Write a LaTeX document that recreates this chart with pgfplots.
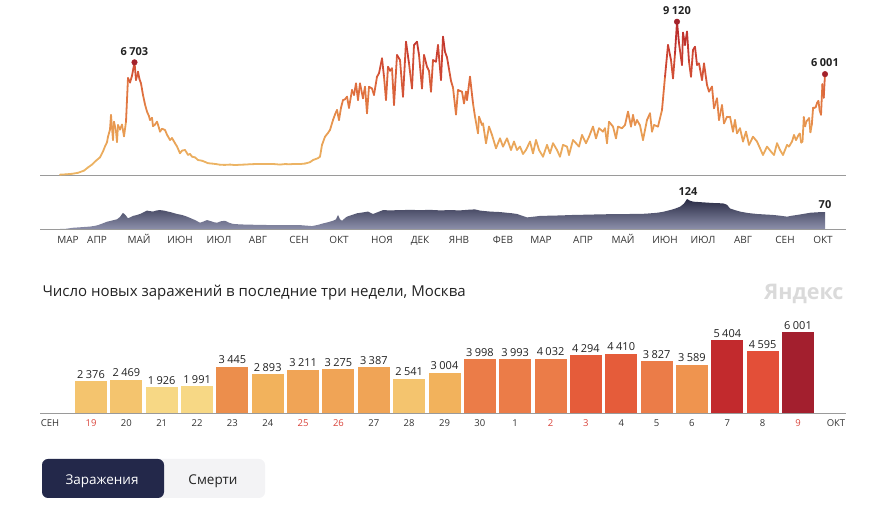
\documentclass[border=0pt]{standalone}
\usepackage{pgfplots}
\usepackage{pgfplotstable}
\pgfplotsset{compat=1.18}
\usepackage{fontspec}
\setmainfont{Open Sans}
\definecolor{axisgray}{HTML}{9A9A9A}
\definecolor{txt}{HTML}{333333}
\definecolor{lbl}{HTML}{222222}
\definecolor{wkend}{HTML}{D9453C}
\definecolor{peak}{HTML}{A3222B}
\definecolor{dtop}{RGB}{40,42,68}
\definecolor{dbot}{RGB}{140,143,170}
\definecolor{btndark}{HTML}{23284A}
\definecolor{btnlight}{HTML}{F3F3F5}
\definecolor{yalogo}{HTML}{DADADA}
\definecolor{cA}{HTML}{F4C46E}
\definecolor{cB}{HTML}{F7D885}
\definecolor{cC}{HTML}{EC8E4C}
\definecolor{cD}{HTML}{F2B25C}
\definecolor{cE}{HTML}{F0A456}
\definecolor{cF}{HTML}{EB7C48}
\definecolor{cG}{HTML}{E55C3A}
\definecolor{cH}{HTML}{EF944F}
\definecolor{cI}{HTML}{C22A2D}
\definecolor{cJ}{HTML}{E34F38}
\definecolor{cK}{HTML}{A31F2E}
\pgfplotsset{colormap={cases}{rgb255=(236,180,100) rgb255=(232,155,82) rgb255=(224,112,62) rgb255=(204,66,50) rgb255=(178,36,42)}}
\newcommand{\nsp}{\hspace{0.22em}}

\pgfplotstableread{
px v
60 20
66 40
72 70
78 130
84 260
88 450
92 620
96 850
100 1050
103 1400
105 1700
107 1950
108 2280
110 2700
111 3570
113 2080
114 3170
116 2600
117 1960
118 2975
120 2700
122 3000
124 2300
126 3170
128 5770
130 5500
132 5900
134.5 6703
136 5650
138 6150
139.5 5700
141 5450
143 4760
145 4200
147 3770
149 3500
150 3270
152 3400
153 2900
155 3000
157 3170
159 2800
160 2580
162 2750
165 2680
167 2400
170 2080
172 2200
175 1890
177 1700
180 1290
182 1450
185 1490
188 1200
190 1250
192 1090
195 1050
198 890
202 850
205 780
208 700
212 680
216 650
220 610
225 600
230 620
235 590
240 610
245 620
250 640
255 650
260 660
265 650
272 660
280 620
285 650
290 640
295 660
300 650
305 680
310 760
313 890
318 1000
320 1090
322 1785
325 2280
328 2500
330 2680
333 3270
335 3600
337 3870
339 3270
341 4000
343 4460
345 4500
347 4660
349 3990
352 5060
354 4760
356 5450
358 4460
360 5450
363 4560
365 5250
367 3670
369 5250
372 5150
374 4760
377 5850
379 6050
382 6940
384 5850
386 4460
388 6440
390 6200
392 6350
394 4170
397 7140
400 6840
403 4660
406 7930
409 6640
412 5150
414 7730
417 7930
419 7140
422 5150
424 7140
427 6440
429 6200
431 4960
433 6840
436 6740
438 7730
441 5650
443 8230
445 7330
447 7000
449 6300
451 5600
453 5200
456 3600
458 5060
460 5000
462 4960
464 4260
466 4960
467 4460
470 5850
473 4260
475 3470
478 2480
479 3470
482 2975
483 3070
486 1890
489 2880
492 2380
496 1590
500 2180
503 1690
507 2180
511 1490
514 1990
517 1490
520 1690
523 1250
526 1490
530 1990
533 1290
536 2080
539 1490
543 1090
547 1790
550 1290
553 1890
557 1490
560 1090
563 1790
567 1690
569 1190
573 2080
576 1890
579 1690
582 2380
586 1890
589 2280
593 2880
596 2180
599 2780
603 2580
605 2780
607 1890
609 3170
613 2880
616 2180
618 2880
622 2780
625 2975
628 3770
631 2880
633 3570
635 2975
637 3270
640 2950
643 2080
647 3270
650 3670
652 2580
654 2975
658 2880
662 3870
665 5850
668 7735
671 6840
673 5750
675 7240
677 9120
679 7830
682 6545
683 8470
685 7735
687 8530
689 6740
691 5850
693 7440
695 7630
697 6545
699 6640
702 5650
704 6640
707 5355
709 4960
712 5260
714 3970
717 4560
719 3270
722 4160
724 3070
727 3470
730 3470
733 2580
735 3270
737 2480
740 2780
743 1990
746 2580
749 1790
753 2280
757 1990
760 1590
763 1190
767 1690
771 1390
774 1190
777 1890
780 1490
783 1190
787 1790
789 1690
792 1990
794 2380
796 2080
798.5 2376
799.8 2469
801.2 1926
802.5 1991
803.8 3445
805.1 2893
806.5 3211
807.8 3275
809.1 3387
810.4 2541
811.8 3004
813.1 3998
814.4 3993
815.7 4032
817.1 4294
818.4 4410
819.7 3827
821.0 3589
822.4 5404
823.7 4595
825.0 6001
}\casedata

\pgfplotstableread{
px d
60 0
66 1
73 5
80 7
90 10
95 13
98 16
102 22
107 30
112 35
117 40
120 50
123 67
126 55
128 44
131 50
133 54
137 58
140 62
144 70
147 76
150 74
153 72
157 77
160 78
164 76
168 72
172 68
177 62
182 58
187 51
191 44
195 37
200 26
203 30
207 37
211 32
214 28
217 26
221 32
225 34
229 26
233 21
240 19
247 18
260 17
273 16
286 16
300 16
306 14
312 12
318 17
323 23
328 28
333 34
336 40
338 58
340 40
342 34
345 45
347 51
352 58
357 65
362 68
368 72
373 62
378 70
383 78
390 77
400 78
410 79
420 78
430 79
440 77
450 78
460 77
470 80
475 81
480 76
490 72
500 70
507 67
512 65
517 62
522 55
527 48
532 50
540 54
550 55
560 56
573 58
585 59
595 60
607 61
620 61
630 62
640 62
648 64
657 67
663 71
670 78
675 84
680 92
684 105
687 124
690 117
693 113
700 111
707 109
715 107
723 106
727 100
730 85
735 78
740 72
748 66
757 62
765 60
773 58
780 55
787 51
792 55
797 58
803 62
810 67
817 69
822 70
825 70
}\deathdata

\begin{document}
\begin{tikzpicture}
\path[use as bounding box] (0pt,0pt) rectangle (896pt,521pt);

% ---- daily cases ----
\begin{axis}[at={(40pt,346pt)}, anchor=south west, scale only axis,
  width=806pt, height=165pt, xmin=40, xmax=846, ymin=0, ymax=9818,
  axis x line*=bottom, axis y line=none, xtick=\empty, ytick=\empty,
  axis line style={axisgray, line width=0.8pt}, clip=false,
  colormap name=cases, point meta min=600, point meta max=9120]
\addplot[mesh, point meta=y, line width=1.8pt, line join=round, line cap=round] table[x=px,y=v]{\casedata};
\addplot[only marks, mark=*, mark size=2.8pt, color=peak] coordinates {(134.5,6703) (677,9120) (825,6001)};
\node[anchor=base, font=\bfseries\fontsize{11}{13}\selectfont, text=lbl, yshift=6.5pt] at (axis cs:134.5,6703) {6\nsp703};
\node[anchor=base, font=\bfseries\fontsize{11}{13}\selectfont, text=lbl, yshift=7pt] at (axis cs:677,9120) {9\nsp120};
\node[anchor=base, font=\bfseries\fontsize{11}{13}\selectfont, text=lbl, yshift=7.3pt] at (axis cs:825,6001) {6\nsp001};
\end{axis}

% ---- daily deaths ----
\begin{axis}[at={(40pt,292pt)}, anchor=south west, scale only axis,
  width=806pt, height=30pt, xmin=40, xmax=846, ymin=0, ymax=124,
  axis x line*=bottom, axis y line=none, ytick=\empty,
  xtick={68,97,139,180,219,258,299,339,382,420,459,503,541,583,623,665,703,743,785,823},
  xticklabels={МАР,АПР,МАЙ,ИЮН,ИЮЛ,АВГ,СЕН,ОКТ,НОЯ,ДЕК,ЯНВ,ФЕВ,МАР,АПР,МАЙ,ИЮН,ИЮЛ,АВГ,СЕН,ОКТ},
  major tick length=0pt,
  xticklabel style={anchor=base, yshift=-14.5pt, font=\fontsize{10}{12}\selectfont, text=txt},
  axis line style={axisgray, line width=0.8pt}, clip=false]
\addplot[draw=none, top color=dtop, bottom color=dbot] table[x=px,y=d]{\deathdata} \closedcycle;
\node[anchor=base, font=\bfseries\fontsize{11}{13}\selectfont, text=lbl, yshift=3.5pt] at (axis cs:688,124) {124};
\node[anchor=base, font=\bfseries\fontsize{11}{13}\selectfont, text=lbl, yshift=4pt] at (axis cs:825,70) {70};
\end{axis}

% ---- title and logo ----
\node[anchor=base west, font=\fontsize{15}{18}\selectfont, text=lbl] at (39pt,224.3pt) {Число новых заражений в последние три недели, Москва};
\node[anchor=base east, font=\bfseries\fontsize{21.5}{24}\selectfont, text=yalogo] at (847pt,221pt) {Яндекс};

% ---- last three weeks ----
\begin{axis}[at={(40pt,108pt)}, anchor=south west, scale only axis,
  width=806pt, height=100pt, xmin=-1.4427, xmax=21.358, ymin=0, ymax=7430,
  axis x line*=bottom, axis y line=none, ytick=\empty,
  xtick={-1.16,0,1,2,3,4,5,6,7,8,9,10,11,12,13,14,15,16,17,18,19,20,21.075},
  xticklabels={СЕН,\textcolor{wkend}{19},20,21,22,23,24,\textcolor{wkend}{25},\textcolor{wkend}{26},27,28,29,30,1,\textcolor{wkend}{2},\textcolor{wkend}{3},4,5,6,7,8,\textcolor{wkend}{9},ОКТ},
  major tick length=0pt,
  xticklabel style={anchor=base, yshift=-13.7pt, font=\fontsize{9.5}{11}\selectfont, text=txt},
  axis line style={axisgray, line width=0.8pt}, clip=false,
  point meta=y,
  nodes near coords={\pgfmathprintnumber[assume math mode=true,1000 sep={\nsp}]{\pgfplotspointmeta}},
  every node near coord/.append style={font=\fontsize{11}{13}\selectfont, text=lbl, inner sep=2.5pt}]
\addplot[ybar, bar width=32pt, bar shift=0pt, fill=cA, draw=none] coordinates {(0,2376)};
\addplot[ybar, bar width=32pt, bar shift=0pt, fill=cA, draw=none] coordinates {(1,2469)};
\addplot[ybar, bar width=32pt, bar shift=0pt, fill=cB, draw=none] coordinates {(2,1926)};
\addplot[ybar, bar width=32pt, bar shift=0pt, fill=cB, draw=none] coordinates {(3,1991)};
\addplot[ybar, bar width=32pt, bar shift=0pt, fill=cC, draw=none] coordinates {(4,3445)};
\addplot[ybar, bar width=32pt, bar shift=0pt, fill=cD, draw=none] coordinates {(5,2893)};
\addplot[ybar, bar width=32pt, bar shift=0pt, fill=cE, draw=none] coordinates {(6,3211)};
\addplot[ybar, bar width=32pt, bar shift=0pt, fill=cE, draw=none] coordinates {(7,3275)};
\addplot[ybar, bar width=32pt, bar shift=0pt, fill=cE, draw=none] coordinates {(8,3387)};
\addplot[ybar, bar width=32pt, bar shift=0pt, fill=cA, draw=none] coordinates {(9,2541)};
\addplot[ybar, bar width=32pt, bar shift=0pt, fill=cD, draw=none] coordinates {(10,3004)};
\addplot[ybar, bar width=32pt, bar shift=0pt, fill=cF, draw=none] coordinates {(11,3998)};
\addplot[ybar, bar width=32pt, bar shift=0pt, fill=cF, draw=none] coordinates {(12,3993)};
\addplot[ybar, bar width=32pt, bar shift=0pt, fill=cF, draw=none] coordinates {(13,4032)};
\addplot[ybar, bar width=32pt, bar shift=0pt, fill=cG, draw=none] coordinates {(14,4294)};
\addplot[ybar, bar width=32pt, bar shift=0pt, fill=cG, draw=none] coordinates {(15,4410)};
\addplot[ybar, bar width=32pt, bar shift=0pt, fill=cF, draw=none] coordinates {(16,3827)};
\addplot[ybar, bar width=32pt, bar shift=0pt, fill=cH, draw=none] coordinates {(17,3589)};
\addplot[ybar, bar width=32pt, bar shift=0pt, fill=cI, draw=none] coordinates {(18,5404)};
\addplot[ybar, bar width=32pt, bar shift=0pt, fill=cJ, draw=none] coordinates {(19,4595)};
\addplot[ybar, bar width=32pt, bar shift=0pt, fill=cK, draw=none] coordinates {(20,6001)};
\end{axis}

% ---- buttons ----
\fill[btnlight, rounded corners=6pt] (42pt,23pt) rectangle (265pt,62pt);
\fill[btndark, rounded corners=6pt] (42pt,23pt) rectangle (164pt,62pt);
\node[anchor=base, font=\fontsize{13.5}{16}\selectfont, text=white] at (102pt,36.7pt) {Заражения};
\node[anchor=base, font=\fontsize{13.5}{16}\selectfont, text=lbl] at (213pt,36.7pt) {Смерти};
\end{tikzpicture}
\end{document}
